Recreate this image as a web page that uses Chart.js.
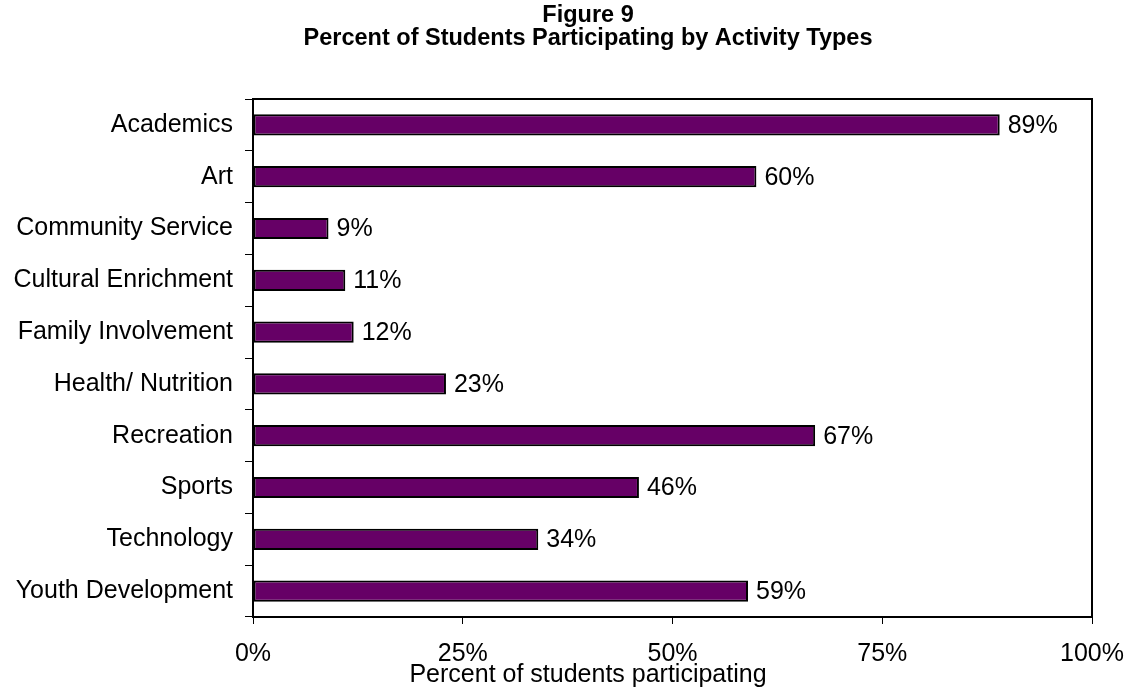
<!DOCTYPE html>
<html>
<head>
<meta charset="utf-8">
<script src="https://cdn.jsdelivr.net/npm/chart.js@4.4.1/dist/chart.umd.min.js"></script>
<style>
  html, body { margin: 0; padding: 0; background: #ffffff; }
  #wrap { width: 1126px; height: 687px; position: relative; }
</style>
</head>
<body>
<div id="wrap"><canvas id="chart" width="1126" height="687"></canvas></div>
<script>
// Activity categories and the share of students taking part in each
const activities = [
  'Academics', 'Art', 'Community Service', 'Cultural Enrichment',
  'Family Involvement', 'Health/ Nutrition', 'Recreation', 'Sports',
  'Technology', 'Youth Development'
];
const participation = [89, 60, 9, 11, 12, 23, 67, 46, 34, 59];
const xTicks = [0, 25, 50, 75, 100];
const titleLines = ['Figure 9', 'Percent of Students Participating by Activity Types'];
const xAxisTitle = 'Percent of students participating';

const FONT = "'Liberation Sans', Arial, sans-serif";
const TEXT_SIZE = 25;
const TITLE_X = 588; // titles are centred on the whole figure, not the plot

// Two-line heading and the x-axis caption
const headingPlugin = {
  id: 'heading',
  afterDraw(chart) {
    const ctx = chart.ctx;
    ctx.save();
    ctx.fillStyle = '#000';
    ctx.textAlign = 'center';
    ctx.textBaseline = 'middle';
    ctx.font = 'bold 23.5px ' + FONT;
    ctx.fillText(titleLines[0], TITLE_X, 16);
    ctx.fillText(titleLines[1], TITLE_X, 39);
    ctx.font = TEXT_SIZE + 'px ' + FONT;
    ctx.fillText(xAxisTitle, TITLE_X, 675);
    ctx.restore();
  }
};

// Frame around the plotting area
const framePlugin = {
  id: 'frame',
  afterDatasetsDraw(chart) {
    const a = chart.chartArea;
    const ctx = chart.ctx;
    ctx.save();
    ctx.strokeStyle = '#000';
    ctx.lineWidth = 2;
    ctx.strokeRect(a.left, a.top, a.right - a.left, a.bottom - a.top);
    ctx.restore();
  }
};

// Percentage written just past the end of every bar
const valueLabelPlugin = {
  id: 'valueLabels',
  afterDatasetsDraw(chart) {
    const ctx = chart.ctx;
    const meta = chart.getDatasetMeta(0);
    ctx.save();
    ctx.fillStyle = '#000';
    ctx.font = TEXT_SIZE + 'px ' + FONT;
    ctx.textAlign = 'left';
    ctx.textBaseline = 'middle';
    meta.data.forEach((bar, i) => {
      ctx.fillText(participation[i] + '%', bar.x + 8, bar.y + 1);
    });
    ctx.restore();
  }
};

new Chart(document.getElementById('chart'), {
  type: 'bar',
  data: {
    labels: activities,
    datasets: [{
      data: participation,
      backgroundColor: '#660066',
      borderColor: '#000000',
      borderWidth: 2,
      borderSkipped: false,
      barPercentage: 0.41,
      categoryPercentage: 1.0
    }]
  },
  options: {
    indexAxis: 'y',
    responsive: false,
    animation: false,
    events: [],
    layout: { padding: { top: 99, right: 34, left: 0, bottom: 0 } },
    plugins: {
      legend: { display: false },
      title: { display: false },
      tooltip: { enabled: false }
    },
    scales: {
      x: {
        min: 0,
        max: 100,
        afterBuildTicks(scale) {
          scale.ticks = xTicks.map(v => ({ value: v }));
        },
        afterFit(scale) {
          scale.height = 70;
          scale.paddingLeft = 0;
          scale.paddingRight = 0;
        },
        grid: {
          drawOnChartArea: false,
          drawTicks: true,
          tickLength: 7,
          color: '#000',
          lineWidth: 1
        },
        border: { display: true, color: '#000', width: 2 },
        ticks: {
          color: '#000',
          font: { family: FONT, size: TEXT_SIZE, lineHeight: 1.2 },
          padding: 15,
          maxRotation: 0,
          callback: v => v + '%'
        },
        title: { display: false }
      },
      y: {
        afterFit(scale) { scale.width = 253; },
        grid: {
          drawOnChartArea: false,
          drawTicks: true,
          tickLength: 8,
          color: '#000',
          lineWidth: 1
        },
        border: { display: true, color: '#000', width: 2 },
        ticks: {
          color: '#000',
          font: { family: FONT, size: TEXT_SIZE },
          padding: 12
        }
      }
    }
  },
  plugins: [headingPlugin, framePlugin, valueLabelPlugin]
});
</script>
</body>
</html>
